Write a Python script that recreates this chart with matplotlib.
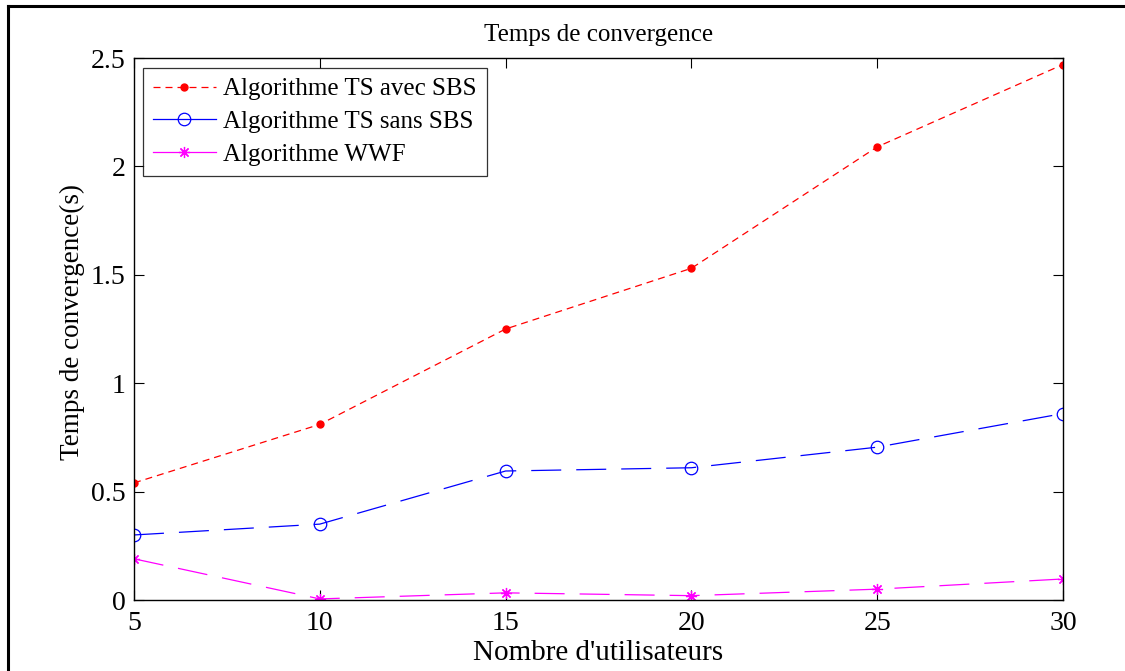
import matplotlib
matplotlib.use("Agg")
import matplotlib.pyplot as plt
from matplotlib.lines import Line2D

users = [5, 10, 15, 20, 25, 30]
ts_avec_sbs = [0.54, 0.81, 1.25, 1.53, 2.09, 2.47]
ts_sans_sbs = [0.30, 0.35, 0.595, 0.61, 0.705, 0.86]
wwf = [0.19, 0.005, 0.033, 0.02, 0.05, 0.097]
labels = ["Algorithme TS avec SBS", "Algorithme TS sans SBS", "Algorithme WWF"]
xticks = [5, 10, 15, 20, 25, 30]
yticks = [0, 0.5, 1, 1.5, 2, 2.5]

plt.rcParams['font.family'] = ['Liberation Serif', 'DejaVu Serif']

W, H = 1125, 671
fig = plt.figure(figsize=(W / 100, H / 100), dpi=100)
ax = fig.add_axes([134 / W, 1 - 600 / H, (1063 - 134) / W, (600 - 58) / H])

star = (8, 2, 0)
red_ls = (0, (5.6, 4))
long_ls = (0, (24, 12))

ax.plot(users, ts_avec_sbs, color='red', linestyle=red_ls, lw=0.9,
        marker='o', markersize=5, markerfacecolor='red', markeredgecolor='red',
        label=labels[0])
ax.plot(users, ts_sans_sbs, color='blue', linestyle=long_ls, lw=0.9,
        marker='o', markersize=9, markerfacecolor='none', markeredgecolor='blue',
        markeredgewidth=0.9, label=labels[1])
ax.plot(users, wwf, color='#ff00ff', linestyle=long_ls, lw=0.9,
        marker=star, markersize=8, markerfacecolor='#ff00ff', markeredgecolor='#ff00ff',
        markeredgewidth=0.9, label=labels[2])

ax.set_xlim(5, 30)
ax.set_ylim(0, 2.5)
ax.set_xticks(xticks)
ax.set_xticklabels([str(v) for v in xticks])
ax.set_yticks(yticks)
ax.set_yticklabels(["0", "0.5", "1", "1.5", "2", "2.5"])
ax.tick_params(direction='in', length=7, width=0.8, top=True, right=True,
               labelsize=20, pad=6)
ax.tick_params(axis='x', pad=8)
for s in ax.spines.values():
    s.set_linewidth(1.0)

ax.set_title("Temps de convergence", fontsize=18, pad=12)
ax.set_xlabel("Nombre d'utilisateurs", fontsize=21, labelpad=3)
ax.set_ylabel("Temps de convergence(s)", fontsize=19.5, labelpad=4)
ax.yaxis.label.set_y((600 - 322) / 542)

handles = [
    Line2D([], [], color='red', linestyle=red_ls, lw=0.9, marker='o',
           markersize=5, markerfacecolor='red', markeredgecolor='red'),
    Line2D([], [], color='blue', lw=0.9, marker='o', markersize=9,
           markerfacecolor='none', markeredgecolor='blue', markeredgewidth=0.9),
    Line2D([], [], color='#ff00ff', lw=0.9, marker=star, markersize=8,
           markerfacecolor='#ff00ff', markeredgecolor='#ff00ff', markeredgewidth=0.9),
]
leg = ax.legend(handles, labels, loc='upper left', bbox_to_anchor=(9 / 929, 1 - 10 / 542),
                fontsize=18, frameon=True, fancybox=False, edgecolor='black',
                borderpad=0.4, labelspacing=0.4, handlelength=2.5,
                handletextpad=0.3, borderaxespad=0)
leg.get_frame().set_linewidth(0.9)

fig.add_artist(Line2D([8 / W, 8 / W], [0, 1 - 6 / H], color='black', lw=2.2,
                      transform=fig.transFigure))
fig.add_artist(Line2D([8 / W, 1], [1 - 6 / H, 1 - 6 / H], color='black', lw=2.2,
                      transform=fig.transFigure))

fig.savefig("out.png", dpi=100)
